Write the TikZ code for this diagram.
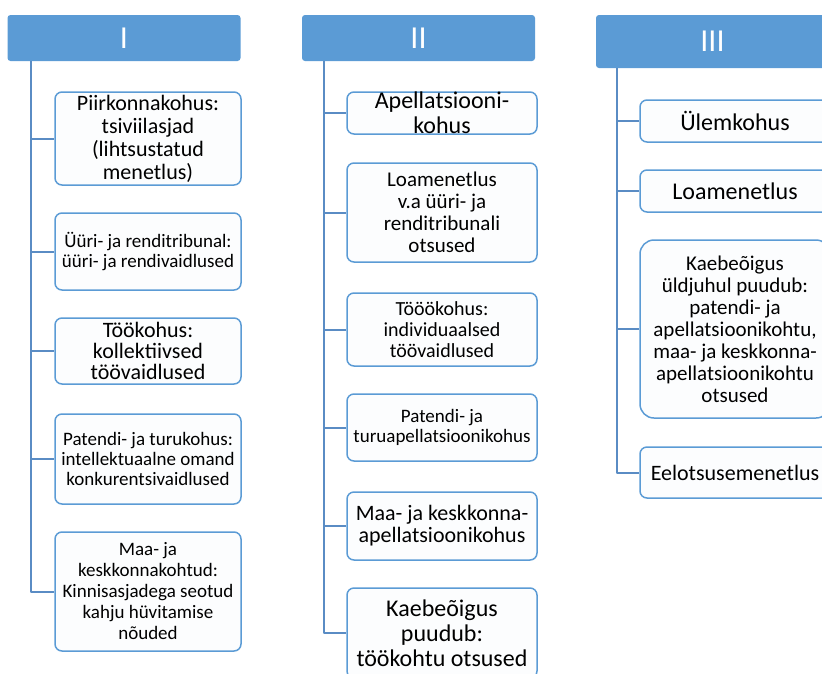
\documentclass[tikz,border=0pt]{standalone}
\usepackage{fontspec}
\setmainfont{Carlito}
\definecolor{smartblue}{HTML}{5B9BD5}
\definecolor{linkblue}{HTML}{5A8CC4}
\definecolor{boxfill}{HTML}{FCFDFE}
\newcommand{\fs}[2]{\fontsize{#1}{#2}\selectfont}
\tikzset{
  head/.style={fill=smartblue, rounded corners=3pt, text=white, font=\fs{32}{34},
    minimum width=233pt, minimum height=46pt, inner sep=0pt},
  box/.style={draw=smartblue, line width=1.5pt, fill=boxfill, rounded corners=7pt,
    align=center, inner sep=0pt, minimum width=186pt},
  link/.style={draw=linkblue, line width=2pt},
}
\begin{document}
\begin{tikzpicture}[x=1pt,y=-1pt,line join=round]
\useasboundingbox (0,0) rectangle (822,673);
\clip (0,0) rectangle (822,673);
\path
(31,0) coordinate (xI)
(324,0) coordinate (xII)
(617,0) coordinate (xIII)
;
% headers
\node[head] (hI) at (124,38) {I};
\node[head] (hII) at (418.5,38) {II};
\node[head, minimum height=53pt] (hIII) at (712.5,41.5) {III};
% column I
\node[box, minimum height=93pt, font=\fs{22}{23}] (I1) at (148,138.5)
  {Piirkonnakohus:\\tsiviilasjad\\(lihtsustatud\\menetlus)};
\node[box, minimum height=77pt, font=\fs{19}{20}] (I2) at (148,251.5)
  {Üüri- ja renditribunal:\\üüri- ja rendivaidlused};
\node[box, minimum height=66pt, font=\fs{22}{21}] (I3) at (148,351)
  {Töökohus:\\kollektiivsed\\töövaidlused};
\node[box, minimum height=90pt, font=\fs{19}{20}] (I4) at (148,459)
  {Patendi- ja turukohus:\\intellektuaalne omand\\konkurentsivaidlused};
\node[box, minimum height=119pt, font=\fs{19}{21}] (I5) at (148,591.5)
  {Maa- ja\\keskkonnakohtud:\\Kinnisasjadega seotud\\kahju hüvitamise\\nõuded};
% column II
\node[box, minimum width=190pt, minimum height=42pt, inner ysep=-4pt, font=\fs{24}{25}] (II1) at (442,113)
  {Apellatsiooni-\\kohus};
\node[box, minimum width=190pt, minimum height=99pt, font=\fs{21}{22}] (II2) at (442,212.5)
  {Loamenetlus\\v.a üüri- ja\\renditribunali\\otsused};
\node[box, minimum width=190pt, minimum height=73pt, font=\fs{20}{21}] (II3) at (442,329.5)
  {Tööökohus:\\individuaalsed\\töövaidlused};
\node[box, minimum width=190pt, minimum height=67pt, font=\fs{19}{20}] (II4) at (442,427.5)
  {Patendi- ja\\turuapellatsioonikohus};
\node[box, minimum width=190pt, minimum height=68pt, font=\fs{22}{22}] (II5) at (442,526)
  {Maa- ja keskkonna-\\apellatsioonikohus};
\node[box, minimum width=190pt, minimum height=90pt, font=\fs{24}{25}] (II6) at (442,633)
  {Kaebeõigus\\puudub:\\töökohtu otsused};
% column III
\node[box, minimum width=190pt, minimum height=42pt, font=\fs{24}{25}] (III1) at (735,121)
  {Ülemkohus};
\node[box, minimum width=190pt, minimum height=42pt, font=\fs{24}{25}] (III2) at (735,191)
  {Loamenetlus};
\node[box, minimum width=190pt, minimum height=178pt, rounded corners=14pt, font=\fs{21}{22}] (III3) at (735,329)
  {Kaebeõigus\\üldjuhul puudub:\\patendi- ja\\apellatsioonikohtu,\\maa- ja keskkonna-\\apellatsioonikohtu\\otsused};
\node[box, minimum width=190pt, minimum height=51pt, font=\fs{22}{23}] (III4) at (735,472.5)
  {Eelotsusemenetlus};
% connectors
\foreach \i in {1,...,5}
\draw[link] (hI.south -| xI) |- (I\i.west);
\foreach \i in {1,...,6}
\draw[link] (hII.south -| xII) |- (II\i.west);
\foreach \i in {1,...,4}
\draw[link] (hIII.south -| xIII) |- (III\i.west);
\end{tikzpicture}
\end{document}
